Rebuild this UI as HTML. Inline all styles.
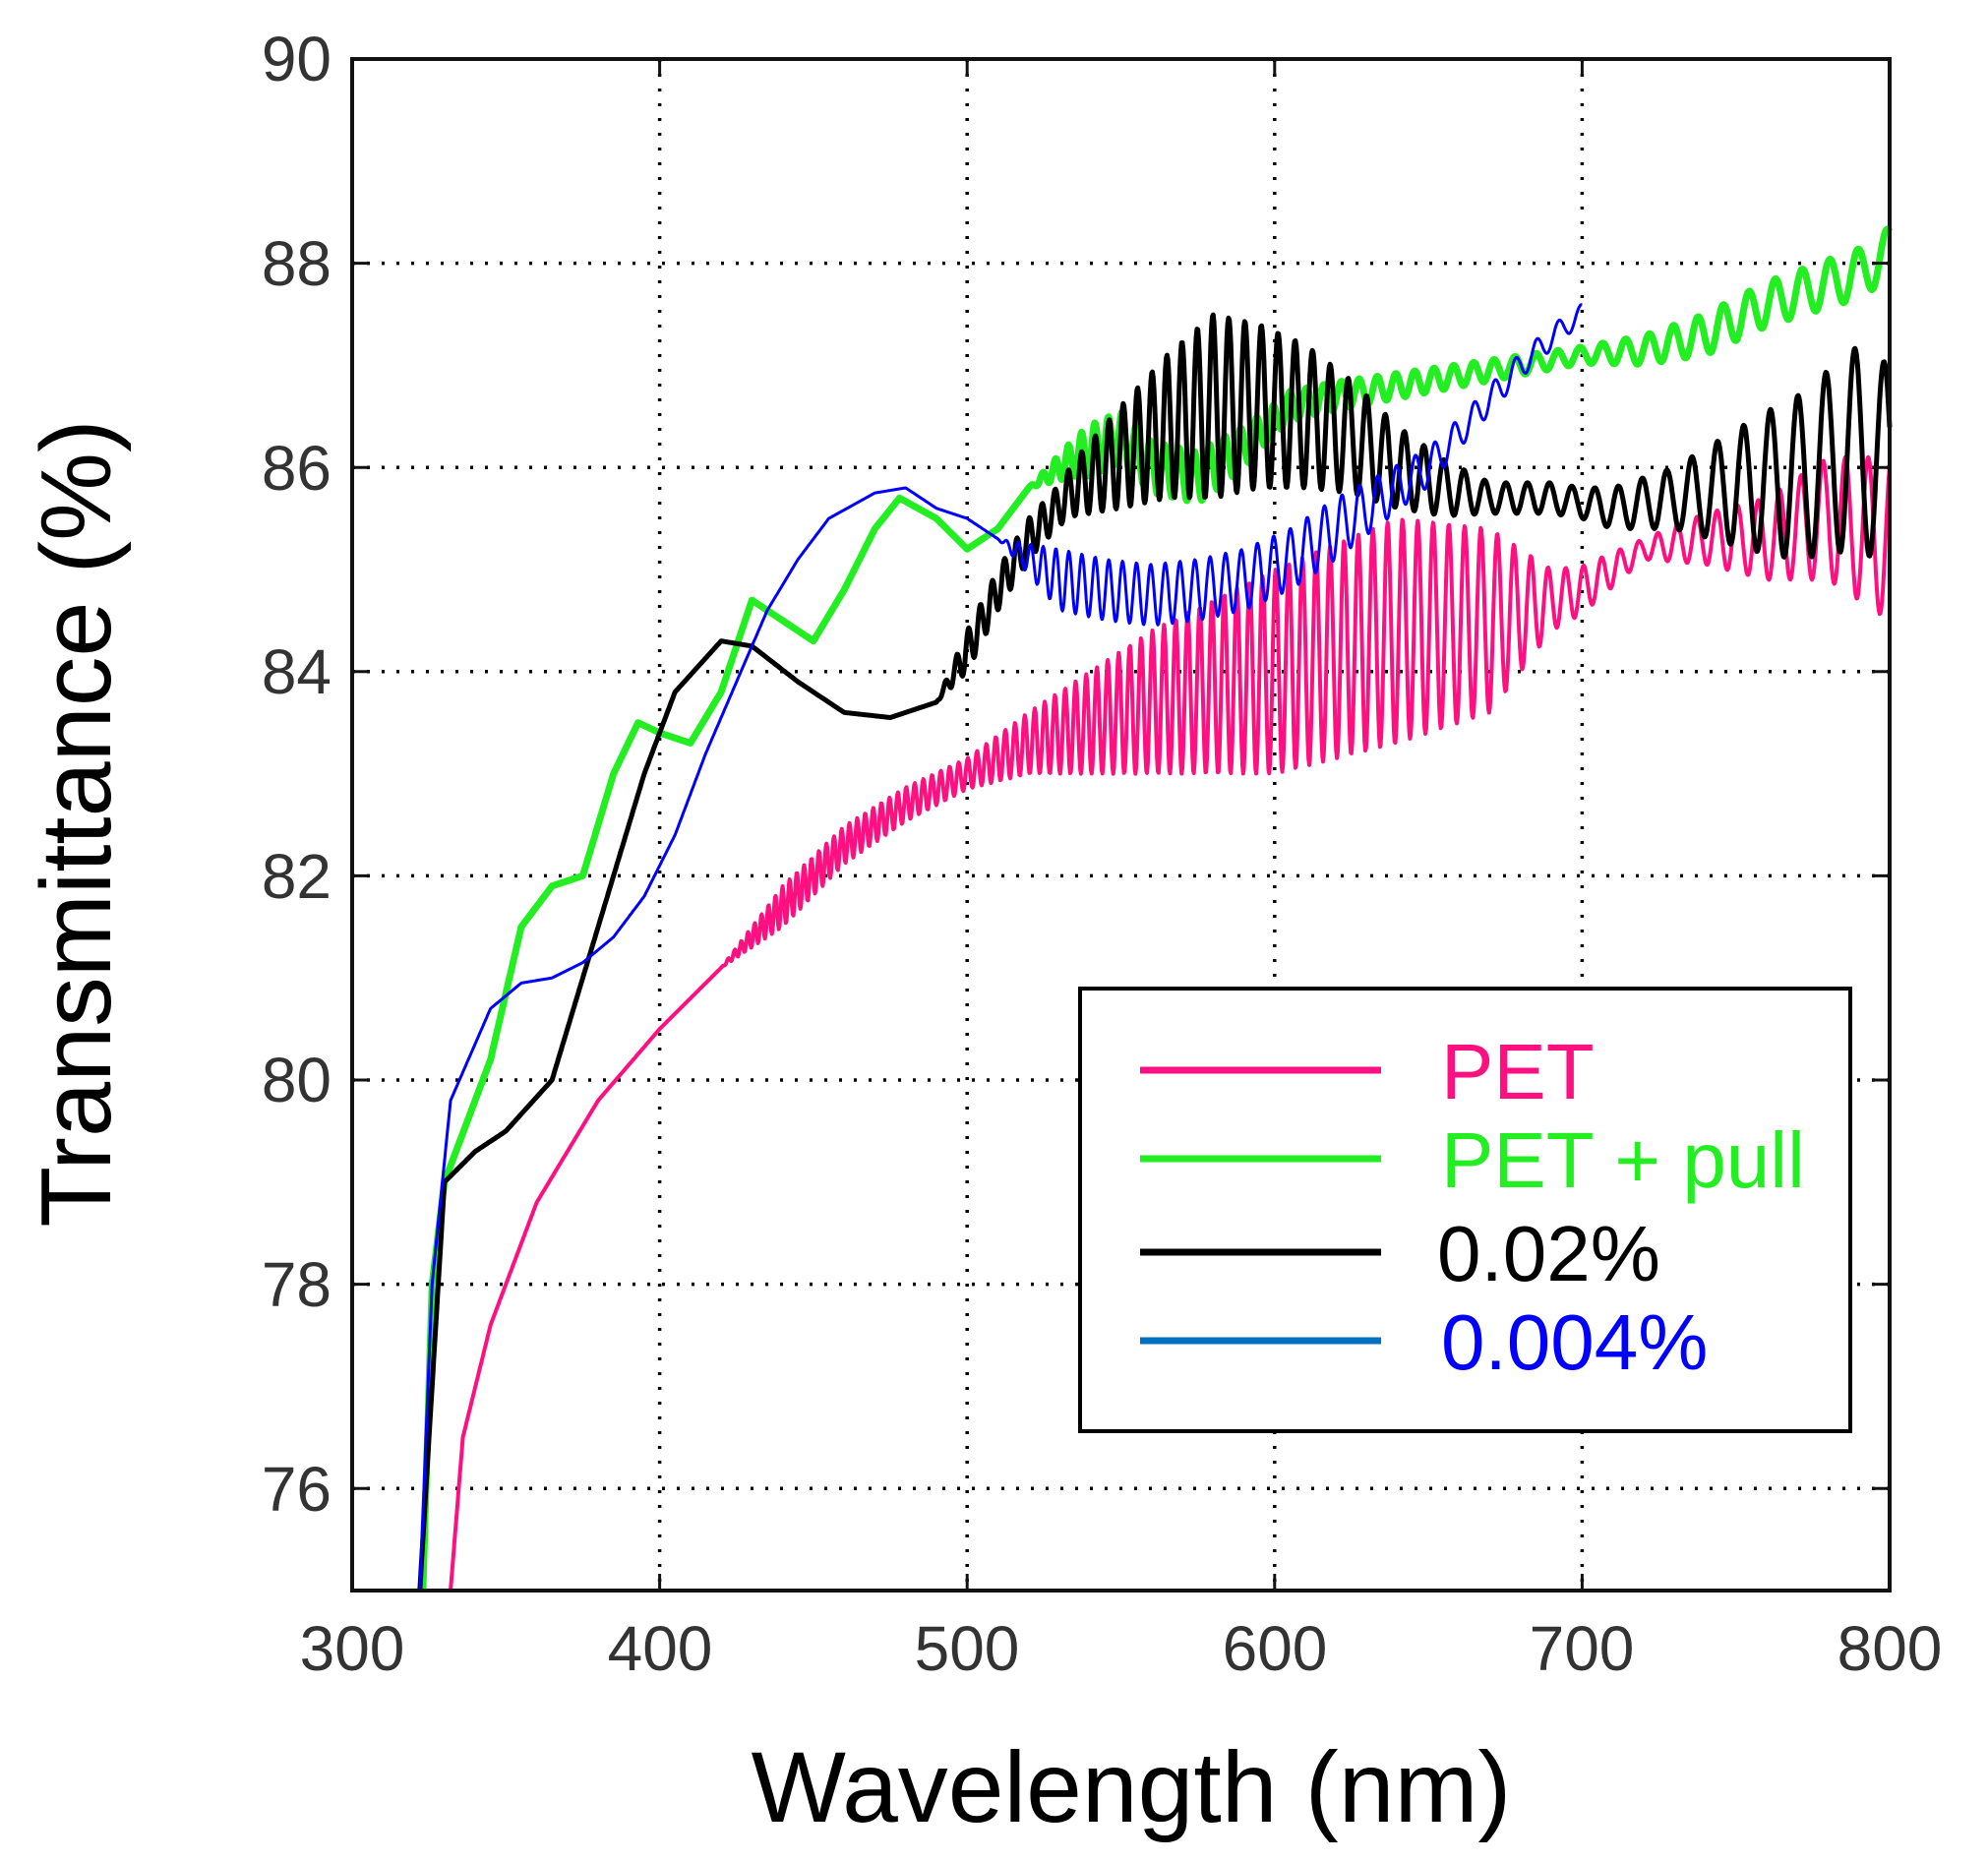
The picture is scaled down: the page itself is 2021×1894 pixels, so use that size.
<!DOCTYPE html>
<html><head><meta charset="utf-8"><style>
html,body{margin:0;padding:0;background:#fff;}
svg{display:block;}
text{font-family:"Liberation Sans",Arial,sans-serif;}
</style></head><body>
<svg id="s" width="2021" height="1894" viewBox="0 0 2021 1894" xmlns="http://www.w3.org/2000/svg">
<rect width="2021" height="1894" fill="#fff"/>
<g id="grid" stroke="#000" stroke-width="3.5" stroke-dasharray="3,12"></g>
<g id="curves" fill="none" stroke-linejoin="round"></g>
<rect x="358" y="60" width="1563" height="1557" fill="none" stroke="#111" stroke-width="4"/>
<g id="ticks" stroke="#111" stroke-width="3"></g>
<g font-size="64" fill="#333" text-anchor="end">
<text x="337" y="82">90</text><text x="337" y="290">88</text><text x="337" y="498">86</text>
<text x="337" y="705">84</text><text x="337" y="913">82</text><text x="337" y="1120">80</text>
<text x="337" y="1328">78</text><text x="337" y="1536">76</text>
</g>
<g font-size="64" fill="#333" text-anchor="middle">
<text x="358" y="1698">300</text><text x="671" y="1698">400</text><text x="983" y="1698">500</text>
<text x="1296" y="1698">600</text><text x="1608" y="1698">700</text><text x="1921" y="1698">800</text>
</g>
<text x="1150" y="1852" font-size="102" text-anchor="middle" fill="#000">Wavelength (nm)</text>
<text transform="translate(112,837) rotate(-90)" font-size="101" text-anchor="middle" fill="#000">Transmittance (%)</text>
<rect x="1098" y="1005" width="783" height="450" fill="#fff" stroke="#000" stroke-width="4"/>
<line x1="1159" y1="1088" x2="1404" y2="1088" stroke="#ff1080" stroke-width="7"/>
<line x1="1159" y1="1178" x2="1404" y2="1178" stroke="#22ee22" stroke-width="7"/>
<line x1="1159" y1="1273" x2="1404" y2="1273" stroke="#000" stroke-width="7"/>
<line x1="1159" y1="1363" x2="1404" y2="1363" stroke="#0070c0" stroke-width="7"/>
<g font-size="80">
<text x="1465" y="1117" fill="#ff1080">PET</text>
<text x="1465" y="1207" fill="#22ee22">PET + pull</text>
<text x="1461" y="1302" fill="#000">0.02%</text>
<text x="1465" y="1392" fill="#0000ff">0.004%</text>
</g>
</svg>
<script>
(function(){
var NS="http://www.w3.org/2000/svg";
function X(n){return 358+(n-300)*3.126;}
function Y(v){return 60+(90-v)*103.8;}
var grid=document.getElementById('grid'),ticks=document.getElementById('ticks');
function ln(g,x1,y1,x2,y2){var l=document.createElementNS(NS,'line');l.setAttribute('x1',x1);l.setAttribute('y1',y1);l.setAttribute('x2',x2);l.setAttribute('y2',y2);g.appendChild(l);}
for(var n=400;n<800;n+=100){ln(grid,X(n),60,X(n),1617);ln(ticks,X(n),1617,X(n),1600);ln(ticks,X(n),60,X(n),77);}
for(var v=76;v<90;v+=2){ln(grid,358,Y(v),1921,Y(v));ln(ticks,358,Y(v),375,Y(v));ln(ticks,1921,Y(v),1904,Y(v));}
function interp(pts,x){if(x<=pts[0][0])return pts[0][1];for(var i=1;i<pts.length;i++){if(x<=pts[i][0]){var a=pts[i-1],b=pts[i];return a[1]+(b[1]-a[1])*(x-a[0])/(b[0]-a[0]);}}return pts[pts.length-1][1];}
function curve(base,amp,p0,color,w,start,end,ph){
var d="",phase=ph||0,x=start;var first=true;
while(x<=end){var p=p0*Math.pow(x/550,2);phase+=2*Math.PI*0.25/p;
var v=interp(base,x)+interp(amp,x)*Math.sin(phase);v=Math.max(74.9,Math.min(90,v));
d+=(first?"M":"L")+X(x).toFixed(1)+","+Y(v).toFixed(1);first=false;x+=0.25;}
var pa=document.createElementNS(NS,'path');pa.setAttribute('d',d);pa.setAttribute('stroke',color);pa.setAttribute('stroke-width',w);
document.getElementById('curves').appendChild(pa);}
curve([[332,75],[336,76.5],[345,77.6],[360,78.8],[380,79.8],[400,80.5],[420,81.1],[440,81.7],[460,82.3],[480,82.7],[500,83.0],[520,83.3],[560,83.7],[600,84.0],[640,84.4],[670,84.5],[700,84.8],[720,85.2],[740,85.3],[760,85.3],[780,85.5],[800,85.3]],
[[332,0],[420,0],[440,0.2],[500,0.15],[520,0.3],[560,0.7],[600,1.0],[640,1.1],[670,0.9],[690,0.3],[720,0.1],[760,0.4],[780,0.6],[800,0.8]],3.6,"#ff1080",4,332,800);
curve([[323,75],[326,78],[330,79],[345,80.2],[355,81.5],[365,81.9],[375,82.0],[385,83.0],[393,83.5],[400,83.4],[410,83.3],[420,83.8],[430,84.7],[440,84.5],[450,84.3],[460,84.8],[470,85.4],[478,85.7],[490,85.5],[500,85.2],[510,85.4],[520,85.8],[535,86.1],[550,86.3],[560,86.0],[575,85.9],[590,86.2],[605,86.6],[620,86.7],[640,86.8],[660,86.9],[680,87.0],[700,87.1],[720,87.15],[740,87.3],[760,87.6],[780,87.8],[790,87.9],[800,88.1]],
[[323,0],[520,0],[540,0.25],[580,0.25],[600,0.15],[700,0.08],[740,0.2],[800,0.25]],4.5,"#22ee22",7,323,800,1);
curve([[322,75],[326,77],[330,79],[340,79.3],[350,79.5],[365,80],[375,81],[385,82],[395,83],[405,83.8],[420,84.3],[430,84.25],[445,83.9],[460,83.6],[475,83.55],[490,83.7],[500,84.2],[510,84.8],[520,85.3],[535,85.8],[550,86.1],[565,86.4],[580,86.6],[595,86.6],[610,86.5],[625,86.3],[640,86.0],[655,85.8],[670,85.7],[690,85.7],[710,85.6],[730,85.7],[750,85.8],[770,85.9],[790,86.2],[800,86.0]],
[[322,0],[490,0],[500,0.2],[530,0.2],[550,0.5],[580,0.9],[610,0.7],[640,0.4],[670,0.15],[700,0.15],[730,0.3],[760,0.7],[790,1.0],[800,1.0]],4.6,"#000",5,322,800,2);
curve([[322,75],[326,78],[332,79.8],[345,80.7],[355,80.95],[365,81.0],[375,81.15],[385,81.4],[395,81.8],[405,82.4],[415,83.2],[425,83.9],[435,84.6],[445,85.1],[455,85.5],[470,85.75],[480,85.8],[490,85.6],[500,85.5],[510,85.3],[520,85.1],[530,84.9],[545,84.8],[560,84.75],[575,84.8],[590,84.9],[605,85.1],[620,85.4],[635,85.7],[650,86.0],[665,86.5],[680,87.0],[695,87.4],[700,87.5]],
[[322,0],[510,0],[530,0.3],[620,0.3],[660,0.15],[700,0.1]],4.5,"#0000ff",3,322,700,3);
})();
</script>
</body></html>
